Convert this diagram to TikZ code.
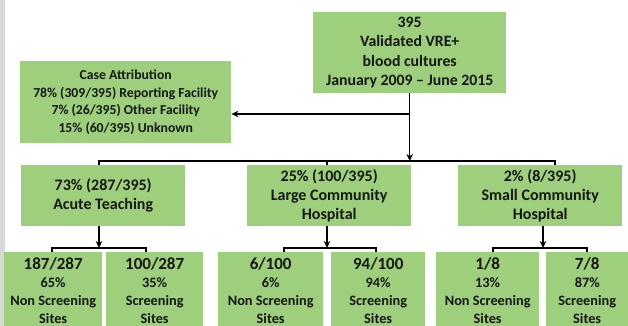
\documentclass[tikz,border=0pt]{standalone}
\usepackage{fontspec}
\setmainfont{Carlito}
\usetikzlibrary{arrows.meta}
\definecolor{boxgreen}{RGB}{157,207,124}
\definecolor{txt}{RGB}{22,22,22}
\begin{document}
\begin{tikzpicture}[x=1pt,y=-1pt,
  gbox/.style={fill=boxgreen, draw=none, inner sep=0pt, align=center, text=txt, anchor=north west},
  topfont/.style={font=\bfseries\fontsize{15.8}{19.5}\selectfont},
  casefont/.style={font=\bfseries\fontsize{13.7}{17.7}\selectfont},
  midfont/.style={font=\bfseries\fontsize{16}{19.3}\selectfont},
  botfont/.style={font=\bfseries\fontsize{14.3}{18}\selectfont},
  conn/.style={line width=1.4pt, draw=black},
  arr/.style={conn, -{Stealth[length=7pt,width=6.5pt]}}
]
\useasboundingbox (0,0) rectangle (628,326);
\clip (0,0) rectangle (628,326);
\fill[white] (0,0) rectangle (628,326);
\fill[gray!30] (0,0) rectangle (5,326);

\node[gbox, topfont, minimum width=193pt, minimum height=81pt] (top) at (313,12)
  {395\\Validated VRE+\\blood cultures\\January 2009 -- June 2015};
\node[gbox, casefont, minimum width=211pt, minimum height=82pt] (case) at (20,61)
  {Case Attribution\\78\% (309/395) Reporting Facility\\7\% (26/395) Other Facility\\15\% (60/395) Unknown};

\node[gbox, midfont, minimum width=164pt, minimum height=61pt] (acute) at (21,165)
  {73\% (287/395)\\Acute Teaching};
\node[gbox, midfont, minimum width=164pt, minimum height=61pt] (large) at (247,165)
  {25\% (100/395)\\Large Community\\Hospital};
\node[gbox, midfont, minimum width=164pt, minimum height=61pt] (small) at (458,165)
  {2\% (8/395)\\Small Community\\Hospital};

\newcommand{\firstl}[1]{{\fontsize{17}{18}\selectfont #1}}
\node[gbox, botfont, minimum width=98pt, minimum height=77pt] (b1) at (4,252)
  {\firstl{187/287}\\65\%\\Non Screening\\Sites};
\node[gbox, botfont, minimum width=97pt, minimum height=77pt] (b2) at (106,252)
  {\firstl{100/287}\\35\%\\Screening\\Sites};
\node[gbox, botfont, minimum width=105pt, minimum height=77pt] (b3) at (218,252)
  {\firstl{6/100}\\6\%\\Non Screening\\Sites};
\node[gbox, botfont, minimum width=94pt, minimum height=77pt] (b4) at (331,252)
  {\firstl{94/100}\\94\%\\Screening\\Sites};
\node[gbox, botfont, minimum width=103pt, minimum height=77pt] (b5) at (436,252)
  {\firstl{1/8}\\13\%\\Non Screening\\Sites};
\node[gbox, botfont, minimum width=82pt, minimum height=77pt] (b6) at (546,252)
  {\firstl{7/8}\\87\%\\Screening\\Sites};

% main connectors
\coordinate (jA) at (top.south |- 0,114);
\coordinate (jB) at (top.south |- 0,161);
\draw[arr] (top.south) -- (jB);
\draw[arr] (jA) -- (case.east |- jA);
\coordinate (bL) at (99,161);
\coordinate (bM) at (327,161);
\coordinate (bR) at (555,161);
\draw[conn] (bL |- acute.north) -- (bL) -- (bR) -- (bR |- small.north);
\draw[conn] (bM) -- (bM |- large.north);

% acute branch
\coordinate (aJ) at (99,248);
\draw[arr] (aJ |- acute.south) -- (aJ);
\coordinate (aL) at (52,248);
\coordinate (aR) at (146,248);
\draw[conn] (aL |- b1.north) -- (aL) -- (aR) -- (aR |- b2.north);

% large branch
\coordinate (lJ) at (327,248);
\draw[arr] (lJ |- large.south) -- (lJ);
\coordinate (lL) at (284,248);
\coordinate (lR) at (376,248);
\draw[conn] (lL |- b3.north) -- (lL) -- (lR) -- (lR |- b4.north);

% small branch
\coordinate (sJ) at (543,248);
\draw[arr] (sJ |- small.south) -- (sJ);
\coordinate (sL) at (493,248);
\coordinate (sR) at (587,248);
\draw[conn] (sL |- b5.north) -- (sL) -- (sR) -- (sR |- b6.north);
\end{tikzpicture}
\end{document}
